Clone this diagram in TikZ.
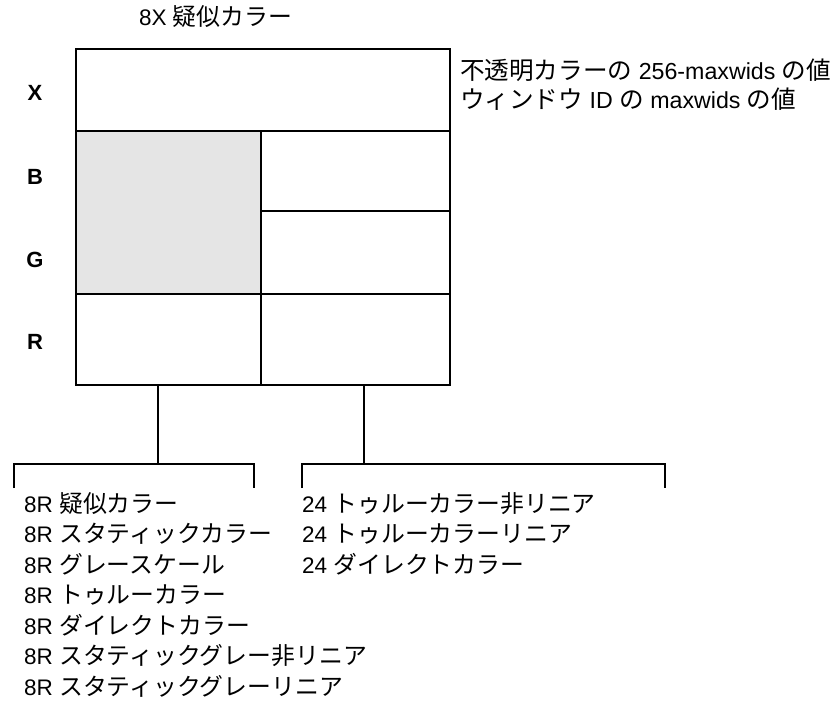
\documentclass[tikz,border=0pt]{standalone}
\usepackage{fontspec}
\setmainfont{Liberation Sans}
\newfontfamily\jp[Scale=1.06]{Noto Sans CJK JP}
\usetikzlibrary{positioning}
\tikzset{%
  % Specifications for the cells of the layout:
       cell/.style = {rectangle, draw=black, line width=1.4pt,
                      inner sep=0pt, outer sep=0pt, anchor=north west},
   graycell/.style = {cell, fill=black!10},
  % Specifications for texts:
    chanlbl/.style = {anchor=base, inner sep=0pt,
                      font=\fontsize{22}{24}\selectfont\bfseries},
       item/.style = {anchor=base west, inner sep=0pt,
                      font=\fontsize{22.5}{25}\selectfont},
       note/.style = {item, font=\fontsize{23.2}{26}\selectfont},
    bracket/.style = {line width=1.4pt},
}

\begin{document}
\begin{tikzpicture}[x=1pt, y=-1pt, node distance=30.5pt]
  \useasboundingbox (0,0) rectangle (839,710);
  % Specification of the cells (position, size)
  \node (xrow) [cell, minimum width=374pt, minimum height=82pt] at (76,49) {};
  \node (bgleft) [graycell, minimum width=185pt, minimum height=163pt] at (76,131) {};
  \node (bright) [cell, minimum width=189pt, minimum height=80pt] at (261,131) {};
  \node (gright) [cell, minimum width=189pt, minimum height=83pt] at (261,211) {};
  \node (rleft) [cell, minimum width=185pt, minimum height=91pt] at (76,294) {};
  \node (rright) [cell, minimum width=189pt, minimum height=91pt] at (261,294) {};
  % Channel labels
  \node (lblx) [chanlbl] at (35,100) {X};
  \node (lblb) [chanlbl] at (35,184) {B};
  \node (lblg) [chanlbl] at (35,267) {G};
  \node (lblr) [chanlbl] at (35,349) {R};
  % Title and notes
  \node (title) [item] at (139,25) {8X {\jp 疑似カラー}};
  \node (note1) [note] at (460,79) {{\jp 不透明カラーの} 256-maxwids {\jp の値}};
  \node (note2) [note, below=29pt of note1.base west, anchor=base west] {{\jp ウィンドウ} ID {\jp の} maxwids {\jp の値}};
  % Split points and brackets
  \coordinate (lsplit) at (158,464);
  \coordinate (rsplit) at (364,464);
  \coordinate (lbl) at (14,488);
  \coordinate (lbr) at (254,488);
  \coordinate (rbl) at (302,488);
  \coordinate (rbr) at (665,488);
  \draw[bracket] (lsplit |- rleft.south) -- (lsplit);
  \draw[bracket] (rsplit |- rright.south) -- (rsplit);
  \draw[bracket] (lbl) |- (lsplit) -| (lbr);
  \draw[bracket] (rbl) |- (rsplit) -| (rbr);
  % Left list
  \node (l1) [item] at (24,512) {8R {\jp 疑似カラー}};
  \node (l2) [item, below=of l1.base west, anchor=base west] {8R {\jp スタティックカラー}};
  \node (l3) [item, below=of l2.base west, anchor=base west] {8R {\jp グレースケール}};
  \node (l4) [item, below=of l3.base west, anchor=base west] {8R {\jp トゥルーカラー}};
  \node (l5) [item, below=of l4.base west, anchor=base west] {8R {\jp ダイレクトカラー}};
  \node (l6) [item, below=of l5.base west, anchor=base west] {8R {\jp スタティックグレー非リニア}};
  \node (l7) [item, below=of l6.base west, anchor=base west] {8R {\jp スタティックグレーリニア}};
  % Right list
  \node (r1) [item] at (302,512) {24 {\jp トゥルーカラー非リニア}};
  \node (r2) [item, below=of r1.base west, anchor=base west] {24 {\jp トゥルーカラーリニア}};
  \node (r3) [item, below=of r2.base west, anchor=base west] {24 {\jp ダイレクトカラー}};
\end{tikzpicture}
\end{document}
